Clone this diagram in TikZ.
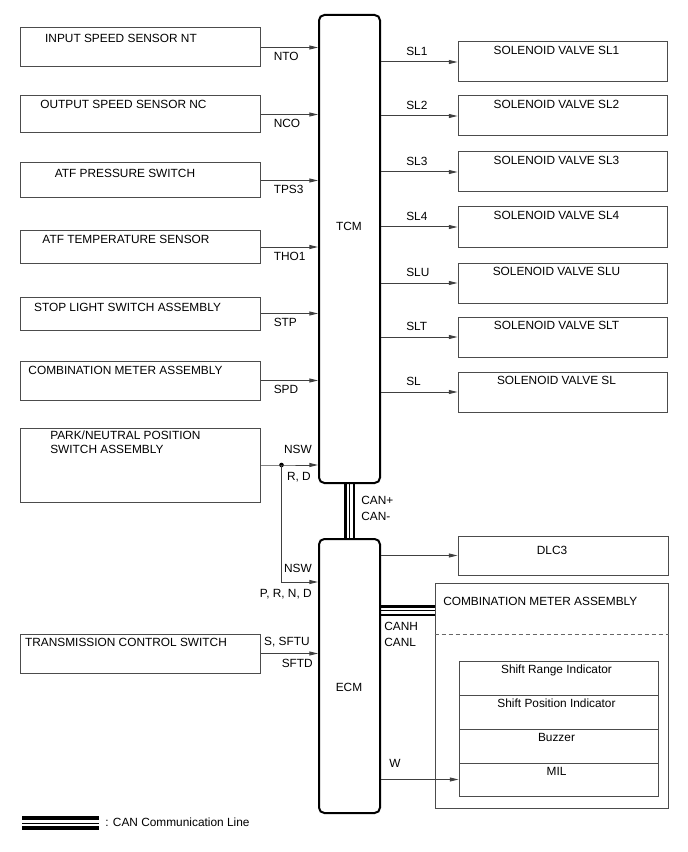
\documentclass[tikz,border=0pt]{standalone}
\usepackage{fontspec}
\setmainfont{Liberation Sans}
\usetikzlibrary{arrows.meta,backgrounds,calc,fit,positioning}
\tikzset{
    tcm diagram/.style = {>={Triangle[length=6.5pt, width=3pt]}},
    box/.style      = {draw=black!70, line width=0.75pt, inner sep=0pt},
    ecu/.style      = {draw, line width=1.5pt, rounded corners=4pt,
                       inner sep=0pt},
    txt/.style      = {font=\fontsize{8.9pt}{10.5pt}\selectfont,
                       inner sep=0pt, text height=6.4pt, text depth=0pt},
    sig/.style      = {txt},
    wire/.style     = {->, draw=black!75, line width=0.75pt},
    can/.style      = {draw=black, line width=8.5pt,
                       postaction={draw=white, line width=4.5pt},
                       postaction={draw=black, line width=0.75pt}},
    junction/.style = {circle, fill, inner sep=0pt, minimum size=3.5pt},
    sep line/.style = {draw=black!60, line width=0.75pt,
                       dash pattern=on 3pt off 2.25pt}
}

\begin{document}
\begin{tikzpicture}[tcm diagram, x=0.75pt, y=-0.75pt]
\useasboundingbox (0,0) rectangle (688,852);

% Control units
\node[ecu, fit={(319,15) (380,483)}] (tcm) {};
\node[txt] (tcm-t) at (349,226) {TCM};
\node[ecu, fit={(319,539) (380,813)}] (ecm) {};
\node[txt] (ecm-t) at (349,687) {ECM};

% Sensors and switches read by the TCM
\foreach \nm/\ya/\yb/\tx/\ty/\txt/\lbl in {
    ins/28/67/121/38/INPUT SPEED SENSOR NT/NTO,
    ous/96/133/123.5/104/OUTPUT SPEED SENSOR NC/NCO,
    atp/163/198/125/173/ATF PRESSURE SWITCH/TPS3,
    att/231/263/126/239/ATF TEMPERATURE SENSOR/THO1,
    sls/297/330/127.5/307/STOP LIGHT SWITCH ASSEMBLY/STP,
    cmb/361/400/125.5/370/COMBINATION METER ASSEMBLY/SPD}
{
    \node[box, fit={(20,\ya) (260,\yb)}] (\nm) {};
    \node[txt] (\nm-t) at (\tx,\ty) {\txt};
    \draw[wire] (\nm.east) -- (\nm.east -| tcm.west);
    \node[sig, anchor=west] (\nm-s) at ($(\nm.east)+(13,9)$) {\lbl};
}

% Park/neutral position switch goes to both units
\node[box, fit={(20,428) (260,502)}] (pnp) {};
\node[txt, align=left, anchor=north west] (pnp-t) at (50,445)
    {PARK/NEUTRAL POSITION\\SWITCH ASSEMBLY};
\path (pnp.east) ++(21,0) node[junction] (jn) {};
\draw[wire] (pnp.east) -- (jn.center) -- (jn.center -| tcm.west);
\draw[wire] (jn.center) |- ($(ecm.north west)+(0,44)$);
\node[sig, anchor=east] (nsw-a) at (312,449) {NSW};
\node[sig, anchor=east] (rd) at (311,476) {R, D};
\node[sig, anchor=east] (nsw-b) at (312,568) {NSW};
\node[sig, anchor=east] (prnd) at (312,593) {P, R, N, D};

% Transmission control switch
\node[box, fit={(20,634) (260,673)}] (tcs) {};
\node[txt] (tcs-t) at (126,642) {TRANSMISSION CONTROL SWITCH};
\draw[wire] (tcs.east) -- (tcs.east -| ecm.west);
\node[sig, anchor=east] (sftu) at (310,641) {S, SFTU};
\node[sig, anchor=east] (sftd) at (313,663) {SFTD};

% Solenoid valves driven by the TCM
\foreach \nm/\ya in {SL1/42, SL2/96, SL3/152, SL4/207, SLU/263, SLT/317, SL/372}
{
    \node[box, fit={(458,\ya) (667,\ya+40)}] (sv-\nm) {};
    \node[txt] (sv-\nm-t) at ($(sv-\nm.north)+(-6,9)$) {SOLENOID VALVE \nm};
    \draw[wire] (sv-\nm.west -| tcm.east) -- (sv-\nm.west);
    \node[sig, anchor=west] (sv-\nm-s)
        at ($(sv-\nm.west -| tcm.east)+(25,-11)$) {\nm};
}

% DLC3
\node[box, fit={(458,536) (668,575)}] (dlc) {};
\node[txt] (dlc-t) at (552,550) {DLC3};
\draw[wire] (dlc.west -| ecm.east) -- (dlc.west);

% Combination meter and its indicators
\node[box, fit={(435,583) (668,808)}] (cma) {};
\node[txt, anchor=west] (cma-t) at (443,601) {COMBINATION METER ASSEMBLY};
\draw[sep line] ($(cma.north west)+(0,52)$) -- ($(cma.north east)+(0,52)$);
\foreach \nm/\ya/\yb/\txt in {
    sri/661/695/Shift Range Indicator,
    spi/695/729/Shift Position Indicator,
    buz/729/763/Buzzer,
    mil/763/796/MIL}
{
    \node[box, fit={(459,\ya) (658,\yb)}] (\nm) {};
    \node[txt] (\nm-t) at ($(\nm.north)+(-2,9)$) {\txt};
}
\draw[wire] (mil.west -| ecm.east) -- (mil.west);
\node[sig, anchor=west] (w) at (389,763) {W};

% CAN communication lines
\coordinate (canh) at ($(cma.north west)+(0,28)$);
\begin{scope}[on background layer]
    \draw[can] (tcm.south) -- (ecm.north);
    \draw[can] (canh -| ecm.east) -- (canh);
\end{scope}
\node[sig, anchor=west] (canp) at (361,500) {CAN+};
\node[sig, anchor=west] (canm) at (361,516) {CAN-};
\node[sig, anchor=west] (canh-s) at (384,626) {CANH};
\node[sig, anchor=west] (canl-s) at (384,642) {CANL};

% Legend
\coordinate (leg-a) at (22,823);
\coordinate (leg-b) at (99,823);
\draw[can, line width=10pt] (leg-a) -- (leg-b);
\node[sig, anchor=west] (leg-t) at (105,822) {: CAN Communication Line};

\end{tikzpicture}
\end{document}
